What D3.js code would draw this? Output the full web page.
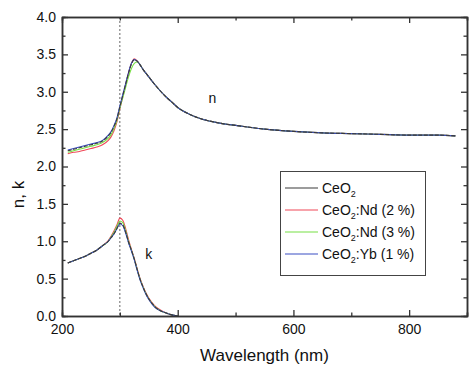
<!DOCTYPE html>
<html><head><meta charset="utf-8">
<script src="https://cdn.jsdelivr.net/npm/d3@7"></script>
<style>body{margin:0;background:#fff}svg{display:block;font-family:"Liberation Sans",Arial,sans-serif}</style>
</head><body><svg id="c" width="474" height="373"></svg>
<script>
// ---- data ----
const seriesNames = ["CeO2", "CeO2:Nd (2 %)", "CeO2:Nd (3 %)", "CeO2:Yb (1 %)"];
const seriesColors = ["#3a3a3a", "#f04858", "#77e044", "#3a4fc4"];
const wlN = [210,220,230,240,250,260,270,280,285,290,295,300,305,310,315,320,325,330,335,340,350,360,370,380,390,400,420,440,460,480,500,550,600,650,700,750,800,850,880];
const nCeO2  = [2.21,2.23,2.25,2.27,2.29,2.31,2.34,2.41,2.46,2.54,2.64,2.80,2.95,3.10,3.25,3.37,3.43,3.41,3.36,3.30,3.20,3.10,3.01,2.93,2.86,2.79,2.70,2.64,2.60,2.57,2.55,2.50,2.47,2.45,2.44,2.43,2.42,2.42,2.41];
const nNd2   = [2.17,2.19,2.20,2.22,2.24,2.26,2.29,2.35,2.40,2.48,2.60,2.77,2.93,3.09,3.25,3.38,3.44,3.41,3.36,3.30,3.20,3.10,3.01,2.93,2.86,2.79,2.70,2.64,2.60,2.57,2.55,2.50,2.47,2.45,2.44,2.43,2.42,2.42,2.41];
const nNd3   = [2.19,2.21,2.23,2.25,2.27,2.29,2.32,2.38,2.43,2.51,2.62,2.78,2.92,3.06,3.20,3.31,3.38,3.40,3.36,3.30,3.20,3.10,3.01,2.93,2.86,2.79,2.70,2.64,2.60,2.57,2.55,2.50,2.47,2.45,2.44,2.43,2.42,2.42,2.41];
const nYb1   = [2.22,2.24,2.26,2.28,2.30,2.32,2.35,2.42,2.47,2.55,2.65,2.81,2.96,3.11,3.26,3.38,3.43,3.41,3.36,3.30,3.20,3.10,3.01,2.93,2.86,2.79,2.70,2.64,2.60,2.57,2.55,2.50,2.47,2.45,2.44,2.43,2.42,2.42,2.41];
const wlK = [210,220,230,240,250,260,270,280,285,290,295,300,305,310,315,320,325,330,335,340,345,350,360,370,380,390,400];
const kCeO2 = [0.71,0.74,0.77,0.80,0.84,0.88,0.94,1.00,1.05,1.10,1.17,1.24,1.22,1.12,0.99,0.88,0.76,0.62,0.49,0.39,0.30,0.23,0.13,0.07,0.04,0.015,0.0];
const kNd2  = [0.71,0.74,0.77,0.80,0.84,0.88,0.94,1.01,1.07,1.14,1.22,1.31,1.28,1.17,1.02,0.89,0.77,0.63,0.50,0.40,0.31,0.24,0.14,0.08,0.04,0.015,0.0];
const kNd3  = [0.71,0.74,0.77,0.80,0.84,0.88,0.94,1.00,1.06,1.12,1.20,1.27,1.25,1.14,1.00,0.88,0.76,0.62,0.49,0.39,0.30,0.23,0.13,0.07,0.04,0.015,0.0];
const kYb1  = [0.71,0.74,0.77,0.80,0.84,0.88,0.94,1.00,1.05,1.10,1.17,1.23,1.21,1.11,0.98,0.87,0.75,0.61,0.48,0.38,0.29,0.22,0.12,0.07,0.04,0.015,0.0];
const xTicks = [200,400,600,800];
const yTicks = [0,0.5,1,1.5,2,2.5,3,3.5,4];
const xMinor = [300,500,700,900];
const yMinor = [0.25,0.75,1.25,1.75,2.25,2.75,3.25,3.75];
const markerWl = 300;

// ---- layout ----
const L = 62, R = 467, T = 17, B = 316;
const svg = d3.select("#c");
const x = d3.scaleLinear().domain([200, 900]).range([L, R]);
const y = d3.scaleLinear().domain([0, 4]).range([B, T]);

// dotted marker line
svg.append("line").attr("x1", x(markerWl)).attr("x2", x(markerWl)).attr("y1", y(4)).attr("y2", y(0))
  .attr("stroke", "#666").attr("stroke-width", 1).attr("stroke-dasharray", "2,2");

// curves
const line = d3.line().x(d => x(d[0])).y(d => y(d[1])).curve(d3.curveMonotoneX);
const nSets = [nCeO2, nNd2, nNd3, nYb1];
const kSets = [kCeO2, kNd2, kNd3, kYb1];
const order = [1, 2, 3, 0];
order.forEach(i => {
  svg.append("path").datum(wlN.map((w, j) => [w, nSets[i][j]])).attr("d", line)
    .attr("fill", "none").attr("stroke", seriesColors[i]).attr("stroke-width", 1.1)
    .attr("stroke-dasharray", i === 0 ? "4,1.5" : null);
  svg.append("path").datum(wlK.map((w, j) => [w, kSets[i][j]])).attr("d", line)
    .attr("fill", "none").attr("stroke", seriesColors[i]).attr("stroke-width", 1.1)
    .attr("stroke-dasharray", i === 0 ? "4,1.5" : null);
});

// axes
function styleAxis(g) {
  g.selectAll(".domain").attr("stroke", "#333").attr("stroke-width", 1.5);
  g.selectAll(".tick line").attr("stroke", "#333").attr("stroke-width", 1.3);
  g.selectAll("text").attr("fill", "#111").style("font-size", "14px").style("font-family", '"Liberation Sans",Arial,sans-serif');
}
svg.append("g").attr("transform", `translate(0,${B})`)
  .call(d3.axisBottom(x).tickValues(xTicks).tickSizeInner(-6).tickSizeOuter(0).tickPadding(8).tickFormat(d3.format("d")))
  .call(styleAxis);
svg.append("g").attr("transform", `translate(0,${B})`)
  .call(d3.axisBottom(x).tickValues(xMinor).tickSize(-3.5).tickFormat(""))
  .call(styleAxis);
svg.append("g").attr("transform", `translate(0,${T})`)
  .call(d3.axisTop(x).tickValues(xTicks).tickSizeInner(-6).tickSizeOuter(0).tickFormat(""))
  .call(styleAxis);
svg.append("g").attr("transform", `translate(0,${T})`)
  .call(d3.axisTop(x).tickValues(xMinor).tickSize(-3.5).tickFormat(""))
  .call(styleAxis);
svg.append("g").attr("transform", `translate(${L},0)`)
  .call(d3.axisLeft(y).tickValues(yTicks).tickSizeInner(-6).tickSizeOuter(0).tickPadding(6).tickFormat(d3.format(".1f")))
  .call(styleAxis);
svg.append("g").attr("transform", `translate(${L},0)`)
  .call(d3.axisLeft(y).tickValues(yMinor).tickSize(-3.5).tickFormat(""))
  .call(styleAxis);
svg.append("g").attr("transform", `translate(${R},0)`)
  .call(d3.axisRight(y).tickValues(yTicks).tickSizeInner(-6).tickSizeOuter(0).tickFormat(""))
  .call(styleAxis);
svg.append("g").attr("transform", `translate(${R},0)`)
  .call(d3.axisRight(y).tickValues(yMinor).tickSize(-3.5).tickFormat(""))
  .call(styleAxis);

// axis titles
svg.append("text").attr("x", (L + R) / 2).attr("y", 361).attr("text-anchor", "middle")
  .style("font-size", "17px").attr("fill", "#111").text("Wavelength (nm)");
svg.append("text").attr("transform", `translate(24,${y(2.0) + 28}) rotate(-90)`).attr("text-anchor", "middle")
  .style("font-size", "17px").attr("fill", "#111").text("n, k");

// curve labels
svg.append("text").attr("x", x(460)).attr("y", y(2.92) + 5).attr("text-anchor", "middle")
  .style("font-size", "14px").attr("fill", "#111").text("n");
svg.append("text").attr("x", x(350)).attr("y", y(0.83) + 5).attr("text-anchor", "middle")
  .style("font-size", "14px").attr("fill", "#111").text("k");

// legend
const lg = svg.append("g");
lg.append("rect").attr("x", 280.5).attr("y", 171.5).attr("width", 145).attr("height", 104)
  .attr("fill", "#fff").attr("stroke", "#444").attr("stroke-width", 1);
const legY = d3.scalePoint().domain(seriesNames).range([188, 254]);
seriesNames.forEach((name, i) => {
  const yy = legY(name);
  lg.append("line").attr("x1", 285).attr("x2", 318).attr("y1", yy).attr("y2", yy)
    .attr("stroke", seriesColors[i]).attr("stroke-width", 1.2);
  const t = lg.append("text").attr("x", 322).attr("y", yy + 5).style("font-size", "14px").attr("fill", "#111");
  const parts = name.split("2");
  // first "2" is the subscript of CeO2
  const idx = name.indexOf("2");
  t.append("tspan").text(name.slice(0, idx));
  t.append("tspan").attr("dy", 4).style("font-size", "9px").text("2");
  t.append("tspan").attr("dy", -4).text(name.slice(idx + 1));
});
</script></body></html>
